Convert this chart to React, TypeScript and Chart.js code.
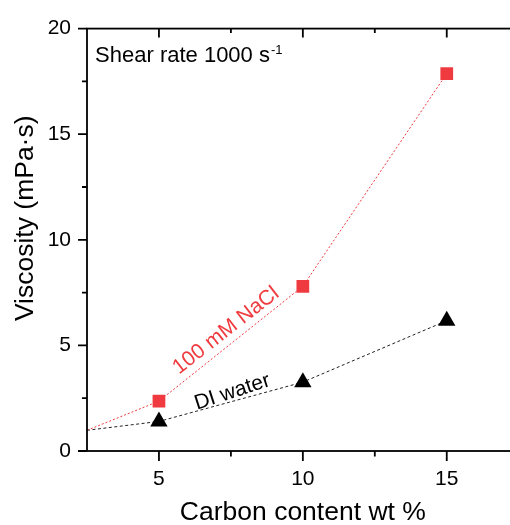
import React, { useEffect, useRef } from "react";
import { Chart, registerables } from "chart.js";

Chart.register(...registerables);

// ---- data ----
const carbonContent = [5, 10, 15];
const naclViscosity = [2.36, 7.8, 17.87];
const diViscosity = [1.4, 3.26, 6.17];
const startCarbon = 2.5;
const startViscosity = 0.98;

const xMajorTicks = [5, 10, 15];
const xMinorTicks = [7.5, 12.5];
const yMajorTicks = [0, 5, 10, 15, 20];
const yMinorTicks = [2.5, 7.5, 12.5, 17.5];

const xTitle = "Carbon content wt %";
const yTitle = "Viscosity (mPa·s)";
const naclLabel = "100 mM NaCl";
const diLabel = "DI water";
const noteMain = "Shear rate 1000 s";
const noteSup = "-1";

// label anchors in data units
const naclLabelPos = { x: 7.33, y: 5.7, angle: -38 };
const diLabelPos = { x: 7.55, y: 2.79, angle: -18 };
const notePos = { x: 2.78, y: 18.42 };

const RED = "#ef3b3f";
const FONT = "'Liberation Sans', Arial, sans-serif";

const axesPlugin = {
  id: "customAxes",
  afterDraw(chart: any) {
    const { ctx, chartArea, scales } = chart;
    const { left, right, top, bottom } = chartArea;
    const xs = scales.x;
    const ys = scales.y;
    ctx.save();
    ctx.strokeStyle = "#000";
    ctx.lineWidth = 1.8;
    ctx.strokeRect(left, top, right - left, bottom - top);
    ctx.beginPath();
    const xt = (v: number, len: number) => {
      const px = xs.getPixelForValue(v);
      ctx.moveTo(px, bottom);
      ctx.lineTo(px, bottom + len);
      ctx.moveTo(px, top);
      ctx.lineTo(px, top + len - 1);
    };
    xMajorTicks.forEach((v) => xt(v, 10));
    xMinorTicks.forEach((v) => xt(v, 5.5));
    const yt = (v: number, len: number) => {
      const py = ys.getPixelForValue(v);
      ctx.moveTo(left - len, py);
      ctx.lineTo(left, py);
    };
    yMajorTicks.forEach((v) => yt(v, 9));
    yMinorTicks.forEach((v) => yt(v, 5));
    ctx.stroke();

    // y title
    ctx.fillStyle = "#000";
    ctx.font = `26.5px ${FONT}`;
    ctx.textAlign = "center";
    ctx.textBaseline = "middle";
    ctx.save();
    ctx.translate(25.6, (top + bottom) / 2 - 21.5);
    ctx.rotate(-Math.PI / 2);
    ctx.fillText(yTitle, 0, 0);
    ctx.restore();

    // note
    ctx.textAlign = "left";
    ctx.textBaseline = "alphabetic";
    ctx.font = `22px ${FONT}`;
    const nx = xs.getPixelForValue(notePos.x);
    const ny = ys.getPixelForValue(notePos.y);
    ctx.fillText(noteMain, nx, ny);
    const w = ctx.measureText(noteMain).width;
    ctx.font = `13px ${FONT}`;
    ctx.fillText(noteSup, nx + w + 1, ny - 8);

    // series labels
    const drawRot = (text: string, pos: any, color: string) => {
      ctx.save();
      ctx.translate(xs.getPixelForValue(pos.x), ys.getPixelForValue(pos.y));
      ctx.rotate((pos.angle * Math.PI) / 180);
      ctx.font = `21px ${FONT}`;
      ctx.fillStyle = color;
      ctx.textAlign = "center";
      ctx.textBaseline = "middle";
      ctx.fillText(text, 0, 0);
      ctx.restore();
    };
    drawRot(naclLabel, naclLabelPos, RED);
    drawRot(diLabel, diLabelPos, "#000");
    ctx.restore();
  },
};

export default function App() {
  const ref = useRef<HTMLCanvasElement | null>(null);
  useEffect(() => {
    if (!ref.current) return;
    const naclData = [
      { x: startCarbon, y: startViscosity },
      ...carbonContent.map((c, i) => ({ x: c, y: naclViscosity[i] })),
    ];
    const diData = [
      { x: startCarbon, y: startViscosity },
      ...carbonContent.map((c, i) => ({ x: c, y: diViscosity[i] })),
    ];
    const chart = new Chart(ref.current, {
      type: "line",
      data: {
        datasets: [
          {
            label: naclLabel,
            data: naclData,
            borderColor: RED,
            borderWidth: 1,
            borderDash: [2, 2],
            backgroundColor: RED,
            pointStyle: "rect",
            pointRadius: naclData.map((_, i) => (i === 0 ? 0 : 9)),
            pointBorderWidth: 0,
            pointBackgroundColor: RED,
            tension: 0,
          },
          {
            label: diLabel,
            data: diData,
            borderColor: "#222",
            borderWidth: 1,
            borderDash: [3, 2.5],
            backgroundColor: "#000",
            pointStyle: "triangle",
            pointRadius: diData.map((_, i) => (i === 0 ? 0 : 10)),
            pointBorderWidth: 0,
            pointBackgroundColor: "#000",
            tension: 0,
          },
        ],
      },
      options: {
        responsive: false,
        animation: false,
        devicePixelRatio: 1,
        layout: { padding: { left: 0, top: 21, right: 530 - 518.7, bottom: 0 } },
        plugins: { legend: { display: false }, tooltip: { enabled: false } },
        scales: {
          x: {
            type: "linear",
            min: 2.5,
            max: 17.5,
            afterBuildTicks: (s: any) => {
              s.ticks = xMajorTicks.map((v) => ({ value: v }));
            },
            afterFit: (s: any) => {
              s.height = 525 - 451;
            },
            grid: { display: false, drawTicks: false },
            border: { display: false },
            ticks: {
              padding: 16,
              color: "#000",
              font: { family: FONT, size: 21 },
              maxRotation: 0,
            },
            title: {
              display: true,
              text: xTitle,
              color: "#000",
              font: { family: FONT, size: 26.5, lineHeight: 1 },
              padding: { top: 0, bottom: -1 },
            },
          },
          y: {
            type: "linear",
            min: 0,
            max: 20,
            afterBuildTicks: (s: any) => {
              s.ticks = yMajorTicks.map((v) => ({ value: v }));
            },
            afterFit: (s: any) => {
              s.width = 87;
            },
            grid: { display: false, drawTicks: false },
            border: { display: false },
            ticks: {
              padding: 16,
              color: "#000",
              font: { family: FONT, size: 21 },
            },
          },
        },
      },
      plugins: [axesPlugin],
    } as any);
    return () => chart.destroy();
  }, []);
  return (
    <div
      style={{
        position: "fixed",
        left: 0,
        top: 0,
        width: 510,
        height: 525,
        overflow: "hidden",
        background: "#fff",
      }}
    >
      <canvas ref={ref} width={530} height={525} style={{ display: "block" }} />
    </div>
  );
}
